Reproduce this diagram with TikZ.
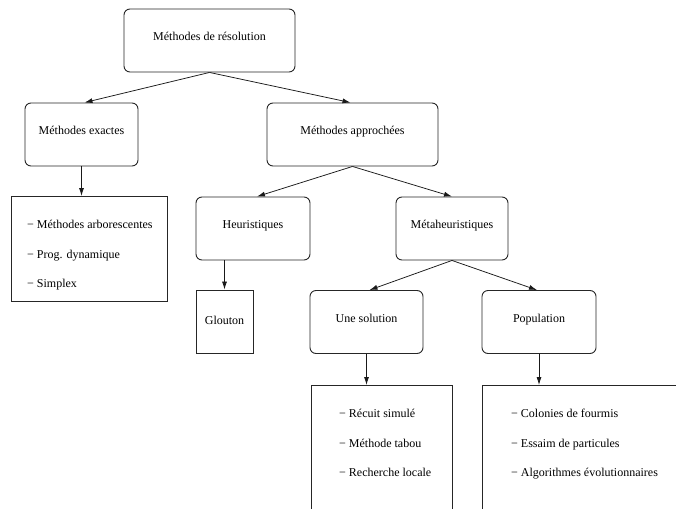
\documentclass[tikz,border=0pt]{standalone}
\usepackage{fontspec}
\setmainfont{Liberation Serif}
\usetikzlibrary{arrows.meta}
\begin{document}
\begin{tikzpicture}[x=1pt,y=-1pt,
  every node/.style={font=\rmfamily\fontsize{12}{14}\selectfont},
  catbox/.style={draw=black!85, rounded corners=6pt, line width=0.9pt,
    minimum height=63pt, inner sep=0pt, text height=9pt, text depth=9pt},
  leafbox/.style={draw=black!85, line width=0.9pt, inner sep=0pt},
  listbox/.style={draw=black!85, line width=0.9pt, inner sep=0pt, anchor=north west},
  entry/.style={anchor=base west, inner sep=0pt},
  link/.style={draw=black!90, line width=0.75pt, -{Latex[length=8pt,width=5pt]}}]

\useasboundingbox (0,0) rectangle (676,508);
\clip (0,0) rectangle (676,508);

% category boxes
\node[catbox, minimum width=171pt] (res)   at (209.5,40.5) {Méthodes de résolution};
\node[catbox, minimum width=113pt] (exact) at (81.5,134.5) {Méthodes exactes};
\node[catbox, minimum width=171pt] (appro) at (352.5,134.5) {Méthodes approchées};
\node[catbox, minimum width=114pt] (heur)  at (253,228.5) {Heuristiques};
\node[catbox, minimum width=112pt] (meta)  at (452,228.5) {Métaheuristiques};
\node[leafbox, minimum width=57pt, minimum height=63pt, text height=9pt, text depth=4pt]
      (glouton) at (224.5,321.5) {Glouton};
\node[catbox, minimum width=113pt] (une)   at (366.5,322) {Une solution};
\node[catbox, minimum width=114pt] (pop)   at (539,322) {Population};

% lists of methods (the two lower ones run past the edge of the page)
\node[listbox, minimum width=156pt, minimum height=105pt] (exlist)  at (11,196) {};
\node[listbox, minimum width=141pt, minimum height=160pt] (unelist) at (311,385) {};
\node[listbox, minimum width=250pt, minimum height=160pt] (poplist) at (482,385) {};

\node[entry] (ex1) at ([xshift=16pt,yshift=-32pt]exlist.north west) {− Méthodes arborescentes};
\node[entry] (ex2) at ([xshift=16pt,yshift=-62pt]exlist.north west) {− Prog. dynamique};
\node[entry] (ex3) at ([xshift=16pt,yshift=-91pt]exlist.north west) {− Simplex};

\node[entry] (un1) at ([xshift=28pt,yshift=-32pt]unelist.north west) {− Récuit simulé};
\node[entry] (un2) at ([xshift=28pt,yshift=-62pt]unelist.north west) {− Méthode tabou};
\node[entry] (un3) at ([xshift=28pt,yshift=-91pt]unelist.north west) {− Recherche locale};

\node[entry] (po1) at ([xshift=29pt,yshift=-32pt]poplist.north west) {− Colonies de fourmis};
\node[entry] (po2) at ([xshift=29pt,yshift=-62pt]poplist.north west) {− Essaim de particules};
\node[entry] (po3) at ([xshift=29pt,yshift=-91pt]poplist.north west) {− Algorithmes évolutionnaires};

% connectors
\draw[link] (res.south) -- ([xshift=3pt]exact.north);
\draw[link] (res.south) -- ([xshift=-2pt]appro.north);
\draw[link] (exact.south) -- (exact.south |- exlist.north);
\draw[link] (appro.south) -- ([xshift=4pt]heur.north);
\draw[link] (appro.south) -- (meta.north);
\draw[link] (heur.south -| glouton.north) -- (glouton.north);
\draw[link] (meta.south) -- ([xshift=3pt]une.north);
\draw[link] (meta.south) -- ([xshift=-2pt]pop.north);
\draw[link] (une.south) -- (une.south |- unelist.north);
\draw[link] (pop.south) -- (pop.south |- poplist.north);
\end{tikzpicture}
\end{document}
